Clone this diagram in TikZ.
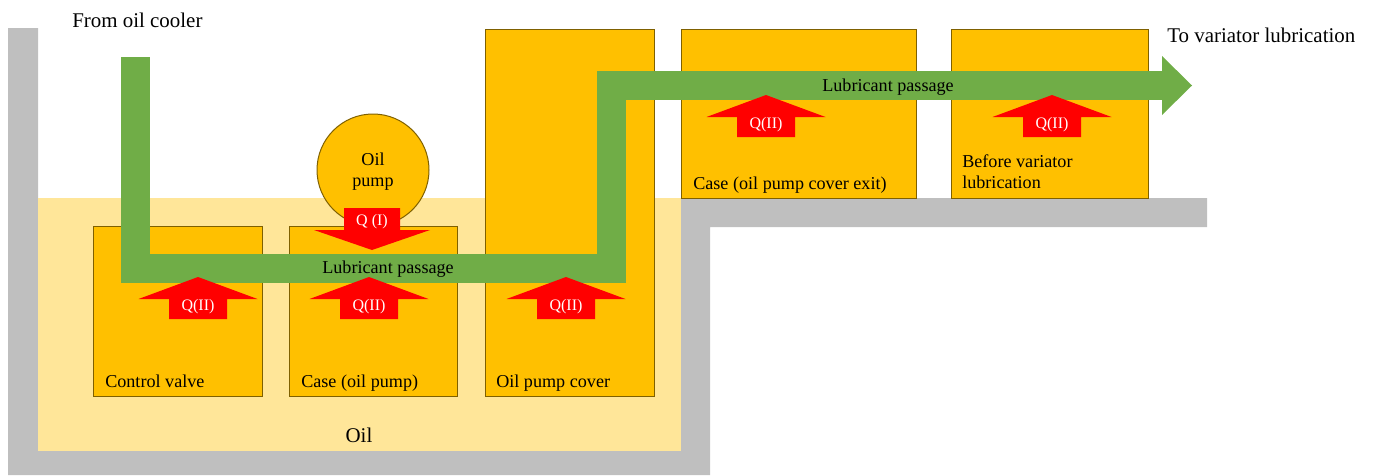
\documentclass[tikz,border=0pt]{standalone}
\usepackage{fontspec}
\setmainfont{Liberation Serif}
\definecolor{lubGray}{HTML}{BFBFBF}
\definecolor{lubOil}{HTML}{FFE699}
\definecolor{lubPart}{HTML}{FFC000}
\definecolor{lubEdge}{HTML}{7F6000}
\definecolor{lubGreen}{HTML}{70AD47}
\definecolor{lubRed}{HTML}{FF0000}
\tikzset{
  lub wall/.style={fill=lubGray},
  lub oil/.style={fill=lubOil},
  lub part/.style={fill=lubPart, draw=lubEdge, line width=0.75pt},
  lub passage/.style={draw=lubGreen, line width=21.75pt, line join=miter},
  lub flow/.style={fill=lubRed},
  lub title/.style={font=\fontsize{15.7}{18}\selectfont, inner sep=0pt},
  lub label/.style={font=\fontsize{13.6}{15.75}\selectfont, inner sep=0pt},
  lub q/.style={font=\fontsize{12}{14}\selectfont, text=white, inner sep=0pt},
}
\begin{document}
\begin{tikzpicture}[x=0.75pt, y=-0.75pt]
  \useasboundingbox (0,0) rectangle (1378,475);

  % Housing walls and the oil bath
  \fill[lub wall] (8,28) -- (38,28) -- (38,451) -- (681,451) -- (681,198)
    -- (1207,198) -- (1207,227) -- (710,227) -- (710,475) -- (8,475) -- cycle;
  \fill[lub oil] (38,198) rectangle (681,451);

  % Parts
  \filldraw[lub part] (93,226) rectangle (262,396);
  \filldraw[lub part] (289,226) rectangle (457,396);
  \filldraw[lub part] (485,29) rectangle (654,396);
  \filldraw[lub part] (681,29) rectangle (916,198);
  \filldraw[lub part] (951,29) rectangle (1148,198);
  \filldraw[lub part] (373,170) circle (56);
  \node[lub label, align=center] (pump) at (373,172) {Oil\\pump};

  % Lubricant passage from the cooler to the variator
  \coordinate (cooler) at (135.5,57);
  \coordinate (low left) at (135.5,268.5);
  \coordinate (low right) at (611.5,268.5);
  \coordinate (up left) at (611.5,85.5);
  \coordinate (exit) at (1162,85.5);
  \draw[lub passage] (cooler) -- (low left) -- (low right) -- (up left) -- (exit);
  \fill[lubGreen] (1162,56) -- (1192,85.5) -- (1162,115) -- cycle;
  \node[lub label] (passage low) at (388,269) {Lubricant passage};
  \node[lub label] (passage up) at (888,87) {Lubricant passage};

  % Q(I) out of the pump
  \fill[lub flow] (344,208) -- (400,208) -- (400,230) -- (430,230) -- (372,250)
    -- (314,230) -- (344,230) -- cycle;
  \node[lub q] (q pump) at (372,222) {Q (I)};

  % Q(II) into each part
  \foreach \cx/\ty in {198/277, 369/277, 566/277, 766/95, 1052/95} {
    \fill[lub flow] (\cx,\ty) -- ++(59.5,22) -- ++(-30.5,0) -- ++(0,20)
      -- ++(-58,0) -- ++(0,-20) -- ++(-30.5,0) -- cycle;
    \node[lub q] (q\cx) at (\cx,\ty+30) {Q(II)};
  }

  % Labels
  \node[lub title, anchor=base west] (from) at (72,27) {From oil cooler};
  \node[lub title, anchor=base west] (to) at (1167,42) {To variator lubrication};
  \node[lub title, anchor=base] (oil) at (359,442) {Oil};
  \node[lub label, anchor=base west] (valve) at (105,387) {Control valve};
  \node[lub label, anchor=base west] (case) at (301,387) {Case (oil pump)};
  \node[lub label, anchor=base west] (cover) at (496,387) {Oil pump cover};
  \node[lub label, anchor=base west] (case exit) at (693,189) {Case (oil pump cover exit)};
  \node[lub label, anchor=base west, align=left] (before) at (962,188) {Before variator\\lubrication};
\end{tikzpicture}
\end{document}
